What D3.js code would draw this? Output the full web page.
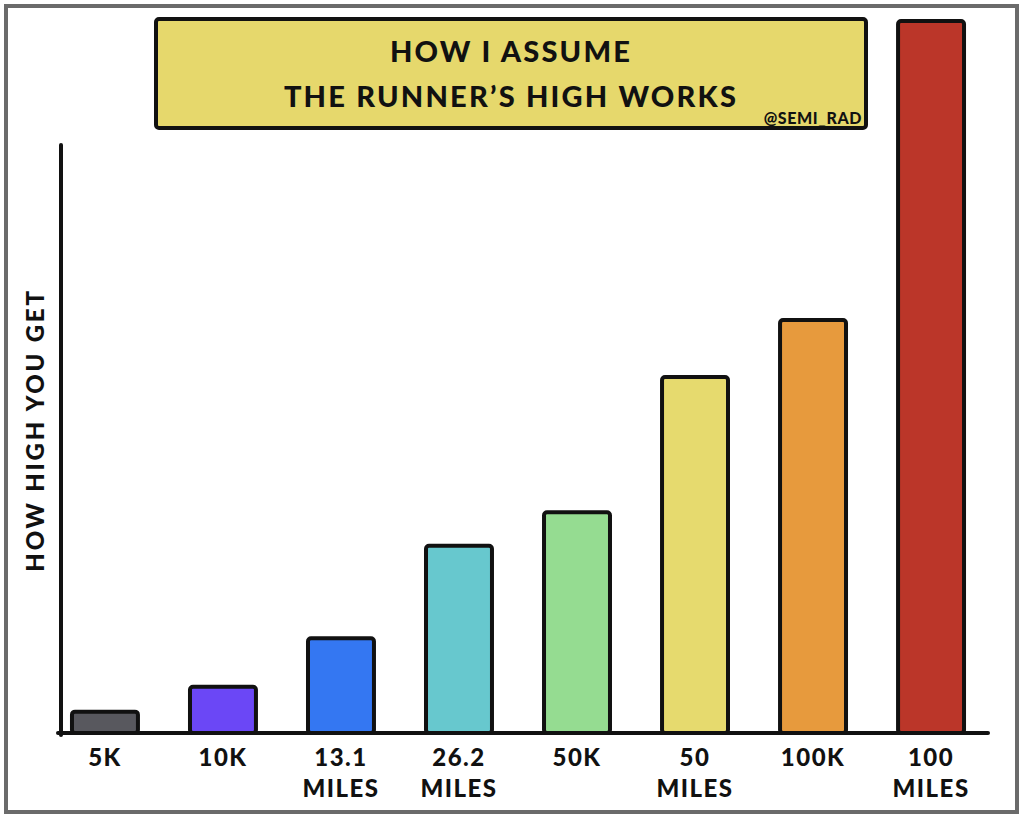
<!DOCTYPE html>
<html>
<head>
<meta charset="utf-8">
<script src="https://cdn.jsdelivr.net/npm/d3@7"></script>
<style>
  html, body { margin: 0; padding: 0; background: #fff; }
  svg { display: block; }
  .lbl { font-family: Lato, "Open Sans", sans-serif; font-weight: 900; fill: #111; }
</style>
</head>
<body>
<svg id="chart" width="1024" height="819"></svg>
<script>
// distances (categories) and how high you get
const races = ['5K', '10K', '13.1 MILES', '26.2 MILES', '50K', '50 MILES', '100K', '100 MILES'];
const highs = [3, 6.5, 13.3, 26.3, 31, 50, 58, 100];
const colors = ['#58585e', '#6b47f6', '#3477f2', '#67c8ce', '#95dc91', '#e6da6e', '#e79a3d', '#bb3629'];
const titleLines = ['HOW I ASSUME', 'THE RUNNER\u2019S HIGH WORKS'];
const credit = '@SEMI_RAD';
const yLabel = 'HOW HIGH YOU GET';

const w = 1024, h = 819;
const svg = d3.select('#chart');

// outer frame
svg.append('rect')
    .attr('x', 6).attr('y', 6)
    .attr('width', w - 13).attr('height', h - 13)
    .attr('fill', '#fff')
    .attr('stroke', '#6b6b6b')
    .attr('stroke-width', 4);

const baseY = 733;
const axisLeft = 61, axisRight = 988;
const x = d3.scaleBand()
    .domain(races)
    .range([axisLeft, 975])
    .paddingInner(0.441)
    .paddingOuter(0.093);

const y = d3.scaleLinear()
    .domain([0, 100])
    .range([baseY, 21]);

const data = races.map((r, i) => ({race: r, high: highs[i], color: colors[i]}));

// title box
const tb = svg.append('g');
tb.append('rect')
    .attr('x', 156).attr('y', 19)
    .attr('width', 710).attr('height', 109)
    .attr('rx', 3)
    .attr('fill', '#e6d86c')
    .attr('stroke', '#111')
    .attr('stroke-width', 4);
tb.selectAll('text.title')
    .data(titleLines)
    .join('text')
    .attr('class', 'lbl title')
    .attr('x', 511)
    .attr('y', (d, i) => 62 + i * 45)
    .attr('text-anchor', 'middle')
    .attr('font-size', 29)
    .attr('letter-spacing', 2.2)
    .text(d => d);
tb.append('text')
    .attr('class', 'lbl')
    .attr('x', 862).attr('y', 124)
    .attr('text-anchor', 'end')
    .attr('font-size', 16)
    .attr('letter-spacing', 0.6)
    .text(credit);

// bars
svg.append('g')
    .selectAll('rect')
    .data(data)
    .join('rect')
    .attr('x', d => x(d.race))
    .attr('y', d => y(d.high))
    .attr('width', x.bandwidth())
    .attr('height', d => baseY - y(d.high))
    .attr('rx', 3)
    .attr('fill', d => d.color)
    .attr('stroke', '#111')
    .attr('stroke-width', 4);

// y axis line (hand drawn, stops short of the top)
svg.append('line')
    .attr('x1', axisLeft).attr('x2', axisLeft)
    .attr('y1', baseY + 2).attr('y2', 145)
    .attr('stroke', '#111')
    .attr('stroke-width', 4)
    .attr('stroke-linecap', 'round');

// x axis
const xAxis = svg.append('g')
    .attr('transform', `translate(0,${baseY})`)
    .call(d3.axisBottom(x).tickSize(0).tickSizeOuter(0).tickPadding(14));
xAxis.select('.domain')
    .attr('d', `M${axisLeft - 3},0H${axisRight}`)
    .attr('stroke', '#111')
    .attr('stroke-width', 4)
    .attr('stroke-linecap', 'round');
xAxis.selectAll('.tick text')
    .attr('class', 'lbl')
    .attr('font-size', 24)
    .attr('letter-spacing', 1.5)
    .attr('dy', 0)
    .attr('y', 33)
    .each(function(d) {
        const parts = d.split(' ');
        const t = d3.select(this).text(null);
        parts.forEach((p, i) => {
            t.append('tspan').attr('x', 0).attr('dy', i === 0 ? 0 : 31).text(p);
        });
    });

// y label
svg.append('text')
    .attr('class', 'lbl')
    .attr('transform', 'translate(44,430) rotate(-90)')
    .attr('text-anchor', 'middle')
    .attr('font-size', 24)
    .attr('letter-spacing', 2.8)
    .text(yLabel);
</script>
</body>
</html>
